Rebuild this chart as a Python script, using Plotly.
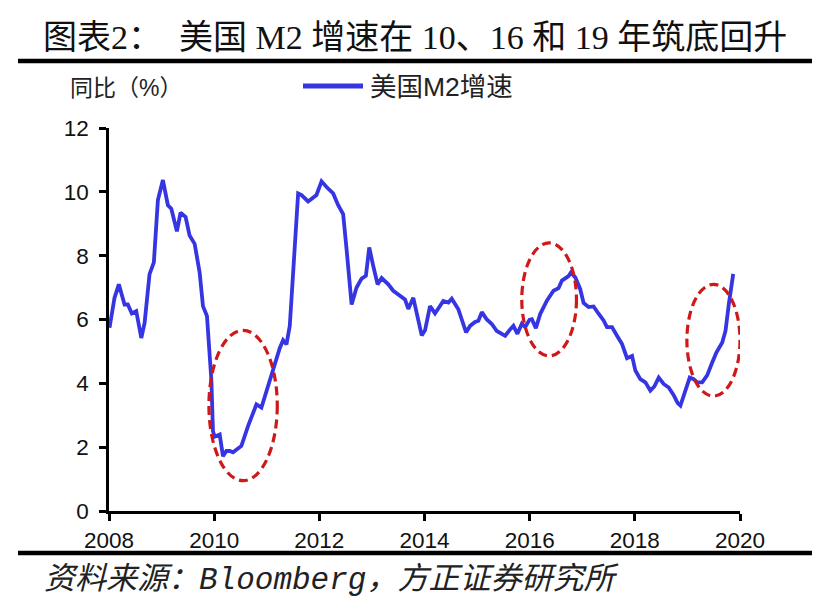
import plotly.graph_objects as go

# ---------------- data ----------------
years = [
    2008.01, 2008.105, 2008.187, 2008.233, 2008.296, 2008.358, 2008.434, 2008.518, 2008.568, 2008.614,
    2008.677, 2008.771, 2008.853, 2008.930, 2009.025, 2009.120, 2009.185, 2009.291, 2009.361, 2009.457,
    2009.533, 2009.629, 2009.724, 2009.787, 2009.863, 2009.905, 2009.947, 2009.977, 2010.010, 2010.105,
    2010.167, 2010.232, 2010.295, 2010.358, 2010.518, 2010.644, 2010.804, 2010.899, 2011.025, 2011.153,
    2011.247, 2011.311, 2011.375, 2011.438, 2011.514, 2011.597, 2011.661, 2011.787, 2011.946, 2012.042,
    2012.137, 2012.263, 2012.358, 2012.453, 2012.518, 2012.614, 2012.708, 2012.804, 2012.886, 2012.949,
    2013.025, 2013.108, 2013.185, 2013.311, 2013.406, 2013.501, 2013.629, 2013.692, 2013.787, 2013.947,
    2014.010, 2014.105, 2014.200, 2014.358, 2014.454, 2014.518, 2014.644, 2014.709, 2014.791, 2014.867,
    2014.962, 2015.025, 2015.090, 2015.185, 2015.280, 2015.375, 2015.471, 2015.534, 2015.628, 2015.691,
    2015.767, 2015.852, 2015.915, 2015.996, 2016.042, 2016.118, 2016.200, 2016.327, 2016.453, 2016.549,
    2016.614, 2016.677, 2016.739, 2016.784, 2016.867, 2016.962, 2017.025, 2017.120, 2017.215, 2017.311,
    2017.406, 2017.470, 2017.566, 2017.661, 2017.757, 2017.851, 2017.947, 2018.010, 2018.105, 2018.201,
    2018.295, 2018.371, 2018.454, 2018.548, 2018.644, 2018.739, 2018.815, 2018.867, 2018.962, 2019.044,
    2019.120, 2019.185, 2019.280, 2019.375, 2019.471, 2019.553, 2019.662, 2019.725, 2019.787, 2019.871,
]
m2_growth = [
    5.74, 6.68, 7.10, 6.84, 6.47, 6.47, 6.19, 6.26, 5.89, 5.42,
    5.89, 7.42, 7.79, 9.74, 10.37, 9.58, 9.47, 8.76, 9.35, 9.21,
    8.63, 8.37, 7.47, 6.42, 6.11, 5.20, 4.10, 2.50, 2.33, 2.40,
    1.72, 1.88, 1.88, 1.84, 2.04, 2.66, 3.34, 3.24, 3.91, 4.64,
    5.10, 5.35, 5.22, 5.80, 7.90, 9.95, 9.90, 9.70, 9.90, 10.33,
    10.15, 9.95, 9.58, 9.30, 8.20, 6.47, 7.00, 7.28, 7.37, 8.26,
    7.68, 7.10, 7.30, 7.10, 6.90, 6.80, 6.63, 6.33, 6.68, 5.50,
    5.66, 6.42, 6.19, 6.58, 6.53, 6.65, 6.32, 6.00, 5.60, 5.80,
    5.92, 5.96, 6.23, 6.00, 5.86, 5.64, 5.53, 5.49, 5.69, 5.80,
    5.55, 5.87, 5.76, 5.99, 6.01, 5.73, 6.17, 6.59, 6.90, 6.98,
    7.22, 7.29, 7.36, 7.47, 7.32, 6.95, 6.52, 6.39, 6.41, 6.18,
    5.97, 5.76, 5.76, 5.49, 5.23, 4.79, 4.86, 4.40, 4.13, 4.03,
    3.77, 3.90, 4.18, 3.98, 3.87, 3.63, 3.38, 3.30, 3.82, 4.18,
    4.13, 4.03, 4.03, 4.25, 4.65, 4.97, 5.28, 5.65, 6.48, 7.43,
]
x_ticks = [2008, 2010, 2012, 2014, 2016, 2018, 2020]
x_tick_labels = ["2008", "2010", "2012", "2014", "2016", "2018", "2020"]
y_ticks = [0, 2, 4, 6, 8, 10, 12]

# bounding boxes of the highlighted troughs: (x0, x1, y0, y1) in data units
highlight_x0 = [2009.90, 2015.85, 2018.99]
highlight_x1 = [2011.20, 2016.89, 2020.00]
highlight_y0 = [0.95, 4.86, 3.60]
highlight_y1 = [5.66, 8.40, 7.10]

title_text = "图表2：\u00a0\u00a0美国 M2 增速在 10、16 和 19 年筑底回升"
unit_text = "同比（%）"
series_name = "美国M2增速"
source_text = "资料来源：Bloomberg，方正证券研究所"

# ---------------- layout geometry ----------------
W_FIG, H_FIG = 827, 608
L, R, T, B = 109, 87, 128, 97
PW = W_FIG - L - R
PH = H_FIG - T - B


def px(x):
    return (x - L) / PW


def py(y):
    return (H_FIG - B - y) / PH


BLUE = "#3535E3"
RED = "#D01818"
SANS = "Liberation Sans, Arial, Noto Sans CJK SC, sans-serif"

fig = go.Figure()
fig.add_trace(go.Scatter(
    x=years, y=m2_growth, mode="lines", name=series_name,
    line=dict(color=BLUE, width=3.8), showlegend=False, hoverinfo="skip",
))

shapes = []
for x0, x1, y0, y1 in zip(highlight_x0, highlight_x1, highlight_y0, highlight_y1):
    shapes.append(dict(type="circle", xref="x", yref="y", x0=x0, x1=x1, y0=y0, y1=y1,
                       line=dict(color=RED, width=3.2, dash="9px,5px")))

# rules above and below the chart
for yy in (61, 553):
    shapes.append(dict(type="line", xref="paper", yref="paper",
                       x0=px(18), x1=px(812), y0=py(yy), y1=py(yy),
                       line=dict(color="black", width=4.5)))

# legend sample
shapes.append(dict(type="line", xref="paper", yref="paper",
                   x0=px(303), x1=px(363), y0=py(86), y1=py(86),
                   line=dict(color=BLUE, width=5)))

annotations = [
    dict(text=title_text, xref="paper", yref="paper", x=px(415), y=py(37),
         xanchor="center", yanchor="middle", showarrow=False,
         font=dict(family="Liberation Serif, Noto Sans CJK SC, serif", size=34, color="#111111")),
    dict(text=unit_text, xref="paper", yref="paper", x=px(68), y=py(88),
         xanchor="left", yanchor="middle", showarrow=False,
         font=dict(family=SANS, size=23, color="#222222")),
    dict(text=series_name, xref="paper", yref="paper", x=px(368), y=py(87),
         xanchor="left", yanchor="middle", showarrow=False,
         font=dict(family=SANS, size=26.5, color="#222222")),
    dict(text="<i>" + source_text + "</i>", xref="paper", yref="paper", x=px(42), y=py(580),
         xanchor="left", yanchor="middle", showarrow=False,
         font=dict(family="Liberation Mono, Noto Sans CJK SC, monospace", size=31, color="#222222")),
]

fig.update_layout(
    width=W_FIG, height=H_FIG,
    margin=dict(l=L, r=R, t=T, b=B, pad=0),
    paper_bgcolor="white", plot_bgcolor="white",
    shapes=shapes, annotations=annotations,
    xaxis=dict(range=[2008, 2020], tickmode="array", tickvals=x_ticks, ticktext=x_tick_labels,
               showgrid=False, zeroline=False, showline=True, linecolor="black", linewidth=2.5,
               ticks="outside", ticklen=7, tickwidth=2.5, tickcolor="black",
               tickfont=dict(family=SANS, size=22.5, color="#111111")),
    yaxis=dict(range=[0, 12], tickmode="array", tickvals=y_ticks,
               showgrid=False, zeroline=False, showline=True, linecolor="black", linewidth=2.5,
               ticks="outside", ticklen=7, tickwidth=2.5, tickcolor="black",
               ticklabelstandoff=6,
               tickfont=dict(family=SANS, size=22.5, color="#111111")),
)

fig.write_html("out.html", config={"displayModeBar": False},
               post_script="document.body.style.margin='0px';")
